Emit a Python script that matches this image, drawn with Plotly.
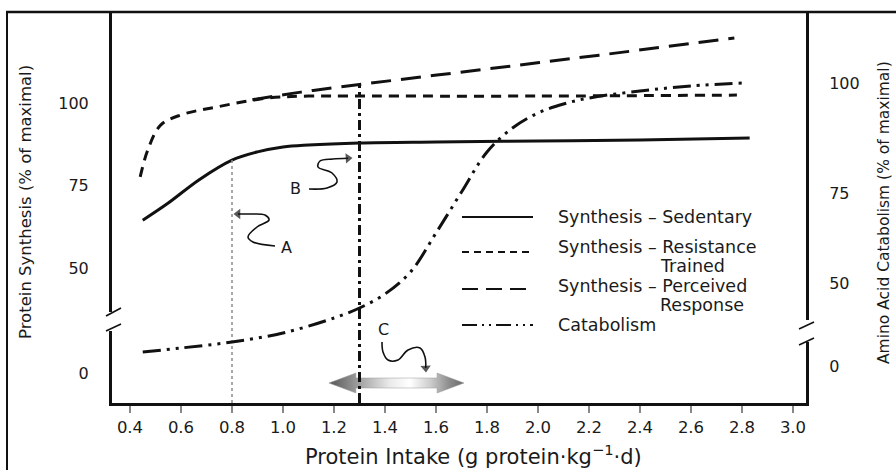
import math
import plotly.graph_objects as go

# ---------------- data ----------------
x_sedentary = [0.45, 0.55, 0.67, 0.8, 0.9, 1.0, 1.1, 1.3, 1.6, 2.0, 2.4, 2.83]
y_sedentary = [64.5, 69.7, 76.7, 82.7, 85.2, 86.7, 87.3, 87.9, 88.2, 88.5, 88.8, 89.4]

x_resistance = [0.44, 0.47, 0.52, 0.6, 0.74, 0.94, 1.1, 1.3, 2.0, 2.78]
y_resistance = [77.6, 85.8, 93.3, 96.4, 98.8, 101.5, 102.1, 102.1, 102.1, 102.4]

x_perceived = [0.88, 1.07, 1.3, 1.8, 2.24, 2.77]
y_perceived = [101.0, 103.3, 105.6, 110.3, 114.5, 119.7]

x_catabolism = [0.45, 0.6, 0.8, 1.0, 1.2, 1.3, 1.4, 1.5, 1.6, 1.7, 1.8, 1.9, 2.0, 2.1, 2.2, 2.4, 2.6, 2.8]
y_catabolism = [32.75, 33.75, 35.25, 37.5, 41.25, 43.75, 47.25, 52.75, 62.5, 72.75, 82.75, 88.75, 92.5,
                94.75, 96.25, 98.0, 99.25, 100.0]

x_marker_A = 0.8          # dotted line (RDA)
x_marker_B = 1.3          # dash-dot line
c_range = [1.18, 1.71]    # shaded double arrow

x_ticks = [0.4, 0.6, 0.8, 1.0, 1.2, 1.4, 1.6, 1.8, 2.0, 2.2, 2.4, 2.6, 2.8, 3.0]
y1_tickvals = [18.2, 50, 75, 100]
y1_ticktext = ["0", "50", "75", "100"]
y2_tickvals = [29.25, 50, 72.5, 100]
y2_ticktext = ["0", "50", "75", "100"]

legend_labels = [("Synthesis – Sedentary", None),
                 ("Synthesis – Resistance", "Trained"),
                 ("Synthesis – Perceived", "Response"),
                 ("Catabolism", None)]

# ---------------- layout geometry ----------------
W, H = 896, 470
L, R, T, B = 112, 90, 12, 67
PW, PH = W - L - R, H - T - B
X_RANGE = [0.4 - 18 / 255, 0.4 + 676 / 255]
Y1_RANGE = [100 - 300 / 3.3, 100 + 91 / 3.3]
Y2_RANGE = [20, 117.75]

FONT = "DejaVu Sans"
INK = "#111111"
TXT = "#1a1a1a"


def xp(X):  # pixel -> paper
    return (X - L) / PW


def yp(Y):
    return (T + PH - Y) / PH


def dx(X):  # pixel -> data x
    return X_RANGE[0] + (X - L) / PW * (X_RANGE[1] - X_RANGE[0])


def dy(Y):  # pixel -> data y1
    return Y1_RANGE[0] + (T + PH - Y) / PH * (Y1_RANGE[1] - Y1_RANGE[0])


fig = go.Figure()

# shaded double-headed arrow (range C)
c0, c1 = c_range
cy_px, head_px, shaft_px = 383, 10, 5
hl = 27 / 255
arrow_x = [c0, c0 + hl, c0 + hl, c1 - hl, c1 - hl, c1, c1 - hl, c1 - hl, c0 + hl, c0 + hl, c0]
arrow_y = [dy(cy_px), dy(cy_px - head_px), dy(cy_px - shaft_px), dy(cy_px - shaft_px), dy(cy_px - head_px),
           dy(cy_px), dy(cy_px + head_px), dy(cy_px + shaft_px), dy(cy_px + shaft_px), dy(cy_px + head_px),
           dy(cy_px)]
fig.add_trace(go.Scatter(
    x=arrow_x, y=arrow_y, mode="lines", fill="toself",
    fillgradient=dict(type="horizontal",
                      colorscale=[[0, "#555555"], [0.2, "#999999"], [0.45, "#eaeaea"], [0.6, "#ffffff"],
                                  [0.75, "#cdcdcd"], [0.9, "#888888"], [1, "#6a6a6a"]]),
    line=dict(color="#9a9a9a", width=0.5), hoverinfo="skip", showlegend=False))

# curves
fig.add_trace(go.Scatter(x=x_sedentary, y=y_sedentary, mode="lines", line_shape="spline",
                         line=dict(color=INK, width=3), name="Synthesis – Sedentary", showlegend=False))
fig.add_trace(go.Scatter(x=x_resistance, y=y_resistance, mode="lines", line_shape="spline",
                         line=dict(color=INK, width=3, dash="10px,7px"),
                         name="Synthesis – Resistance Trained", showlegend=False))
fig.add_trace(go.Scatter(x=x_perceived, y=y_perceived, mode="lines", line_shape="spline",
                         line=dict(color=INK, width=3, dash="20px,10px"),
                         name="Synthesis – Perceived Response", showlegend=False))
fig.add_trace(go.Scatter(x=x_catabolism, y=y_catabolism, mode="lines", line_shape="spline", yaxis="y2",
                         line=dict(color=INK, width=3, dash="18px,6px,3px,6px,3px,6px"),
                         name="Catabolism", showlegend=False))

# vertical markers
sed_at_A = y_sedentary[x_sedentary.index(x_marker_A)]
per_at_B = y_perceived[x_perceived.index(x_marker_B)]
fig.add_trace(go.Scatter(x=[x_marker_A, x_marker_A], y=[Y1_RANGE[0], sed_at_A], mode="lines",
                         line=dict(color="#8a8a8a", width=1.5, dash="dot"), hoverinfo="skip", showlegend=False))
fig.add_trace(go.Scatter(x=[x_marker_B, x_marker_B], y=[Y1_RANGE[0], per_at_B], mode="lines",
                         line=dict(color=INK, width=3, dash="10px,4px,3px,4px"), hoverinfo="skip",
                         showlegend=False))

# wiggly pointer arrows (decorations, pixel sketch points)
wiggles = {
    "A": dict(pts=[(275, 246), (253, 242), (248, 237), (257, 227), (269, 220), (265, 215), (250, 214)],
              tip=(234, 214), label=(286, 247)),
    "B": dict(pts=[(309, 189), (327, 188), (337, 182), (332, 173), (318, 167), (320, 161), (333, 159)],
              tip=(352, 158), label=(295, 188)),
    "C": dict(pts=[(382, 342), (383, 352), (388, 360), (398, 360), (408, 350), (420, 348), (425, 357)],
              tip=(426, 372), label=(383, 329)),
}
annotations = []
for key, w in wiggles.items():
    last, tip = w["pts"][-1], w["tip"]
    ux, uy = tip[0] - last[0], tip[1] - last[1]
    n = math.hypot(ux, uy)
    ux, uy = ux / n, uy / n
    head = (tip[0] - 4 * ux, tip[1] - 4 * uy)
    path = w["pts"] + [head]
    fig.add_trace(go.Scatter(x=[dx(p[0]) for p in path], y=[dy(p[1]) for p in path],
                             mode="lines", line_shape="spline", line=dict(color=INK, width=1.6),
                             hoverinfo="skip", showlegend=False))
    fig.add_trace(go.Scatter(x=[dx(last[0]), dx(head[0])], y=[dy(last[1]), dy(head[1])], mode="markers",
                             marker=dict(symbol="triangle-up", size=[0, 9], angleref="previous", color=INK,
                                         line=dict(width=0)),
                             hoverinfo="skip", showlegend=False))
    annotations.append(dict(x=xp(w["label"][0]), y=yp(w["label"][1]), xref="paper", yref="paper",
                            text=key, showarrow=False, font=dict(family=FONT, size=16, color=TXT),
                            xanchor="center", yanchor="middle"))

# custom legend
shapes = []
LEG_SIZE = 17.5
PREFIX_EM = 5.958          # width of "Synthesis – " in DejaVu Sans (em)
leg_line_y = [217, 252, 289, 325]
leg_text_y = [(217, None), (247, 266), (286, 305), (325, None)]
leg_dash = ["solid", "7px,5px", "16px,8px", "15px,5px,2px,5px,2px,5px"]
for (lab, lab2), ly, (ty1, ty2), dsh in zip(legend_labels, leg_line_y, leg_text_y, leg_dash):
    shapes.append(dict(type="line", xref="paper", yref="paper", x0=xp(462), x1=xp(533), y0=yp(ly), y1=yp(ly),
                       line=dict(color=INK, width=2.2, dash=dsh)))
    annotations.append(dict(x=xp(556), y=yp(ty1), xref="paper", yref="paper", text=lab, showarrow=False,
                            xanchor="left", yanchor="middle", font=dict(family=FONT, size=LEG_SIZE, color=TXT)))
    if lab2:
        annotations.append(dict(x=xp(556 + PREFIX_EM * LEG_SIZE - 2), y=yp(ty2), xref="paper", yref="paper",
                                text=lab2, showarrow=False, xanchor="left", yanchor="middle",
                                font=dict(family=FONT, size=LEG_SIZE, color=TXT)))

# axis titles
annotations.append(dict(x=xp(473), y=yp(455), xref="paper", yref="paper",
                        text="Protein Intake (g protein·kg<sup>−1</sup>·d)", showarrow=False,
                        xanchor="center", yanchor="middle", font=dict(family=FONT, size=21, color=TXT)))
annotations.append(dict(x=xp(25), y=yp(202), xref="paper", yref="paper", textangle=-90,
                        text="Protein Synthesis (% of maximal)", showarrow=False,
                        xanchor="center", yanchor="middle", font=dict(family=FONT, size=16.5, color=TXT)))
annotations.append(dict(x=xp(884), y=yp(213), xref="paper", yref="paper", textangle=-90,
                        text="Amino Acid Catabolism (% of maximal)", showarrow=False,
                        xanchor="center", yanchor="middle", font=dict(family=FONT, size=15.5, color=TXT)))

# outer frame (left and top)
shapes.append(dict(type="line", xref="paper", yref="paper", x0=xp(7), x1=xp(7), y0=yp(11), y1=yp(471),
                   line=dict(color=INK, width=2)))
shapes.append(dict(type="line", xref="paper", yref="paper", x0=xp(6), x1=xp(897), y0=yp(12), y1=yp(12),
                   line=dict(color=INK, width=2.5)))

# axis breaks
for (mx0, mx1, my0, my1, s1, s2) in [
    (104, 120, 312, 331, ((106, 316), (121, 308)), ((106, 331), (121, 324))),
    (798, 815, 320, 342, ((799, 329), (814, 322)), ((799, 345), (814, 338))),
]:
    shapes.append(dict(type="rect", xref="paper", yref="paper", x0=xp(mx0), x1=xp(mx1), y0=yp(my0), y1=yp(my1),
                       fillcolor="white", line=dict(width=0), layer="above"))
    for s in (s1, s2):
        shapes.append(dict(type="line", xref="paper", yref="paper", x0=xp(s[0][0]), y0=yp(s[0][1]),
                           x1=xp(s[1][0]), y1=yp(s[1][1]), line=dict(color=INK, width=1.6)))

fig.update_layout(
    width=W, height=H, margin=dict(l=L, r=R, t=T, b=B, pad=0),
    paper_bgcolor="white", plot_bgcolor="white", showlegend=False,
    font=dict(family=FONT, color=TXT),
    xaxis=dict(range=X_RANGE, tickvals=x_ticks, tickformat=".1f", showgrid=False, zeroline=False,
               showline=True, linecolor=INK, linewidth=3, ticks="outside", ticklen=7, tickwidth=1.5,
               tickcolor="#888888", tickfont=dict(family=FONT, size=16.5, color=TXT),
               ticklabelstandoff=0),
    yaxis=dict(range=Y1_RANGE, tickvals=y1_tickvals, ticktext=y1_ticktext, showgrid=False, zeroline=False,
               showline=True, linecolor=INK, linewidth=3, ticks="",
               tickfont=dict(family=FONT, size=16, color=TXT), ticklabelstandoff=17),
    yaxis2=dict(range=Y2_RANGE, tickvals=y2_tickvals, ticktext=y2_ticktext, overlaying="y", side="right",
                showgrid=False, zeroline=False, showline=True, linecolor=INK, linewidth=3, ticks="",
                tickfont=dict(family=FONT, size=16, color=TXT), ticklabelstandoff=17),
    shapes=shapes, annotations=annotations,
)

fig.write_html("out.html")
